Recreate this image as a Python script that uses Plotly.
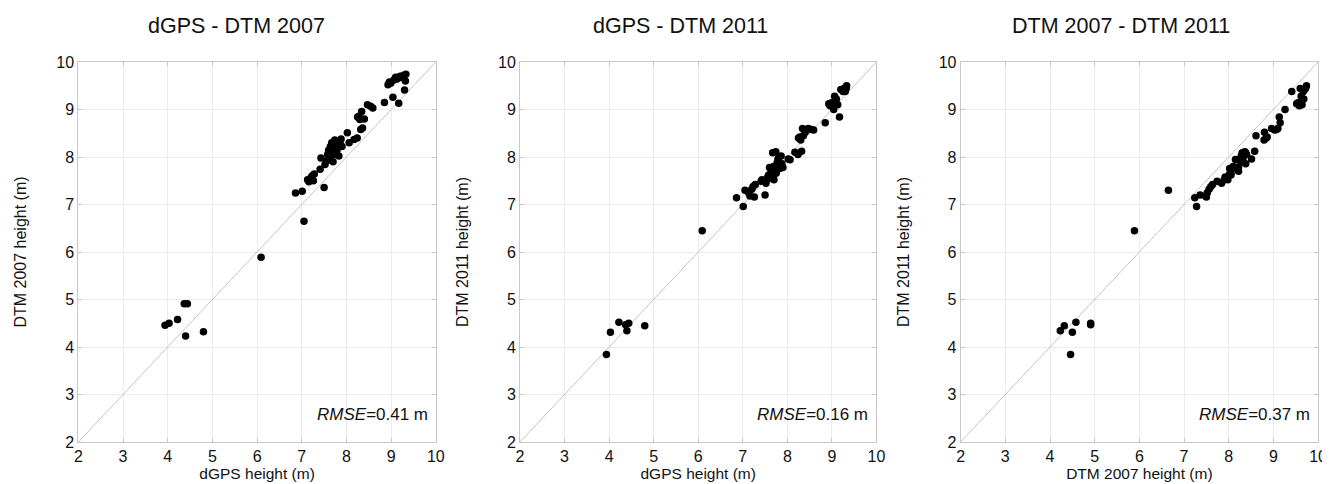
import plotly.graph_objects as go

# ---- data (m) ----
dgps = [3.94, 4.03, 4.22, 4.37, 4.40, 4.44, 4.80, 6.09, 6.86, 7.01, 7.05,
        7.13, 7.16, 7.20, 7.23, 7.26, 7.28, 7.50, 7.41, 7.43, 7.52,
        7.56, 7.58, 7.60, 7.62, 7.64, 7.66, 7.67, 7.69, 7.70, 7.72,
        7.74, 7.75, 7.77, 7.79, 7.80, 7.83, 7.86, 7.88, 7.90,
        8.02, 8.06, 8.17, 8.24, 8.25, 8.28, 8.32, 8.36, 8.34, 8.30,
        8.40, 8.47, 8.54, 8.59, 8.85, 8.93, 8.96, 8.99, 9.04, 9.06,
        9.10, 9.13, 9.17, 9.20, 9.25, 9.28, 9.30, 9.33, 9.32]
dtm2007 = [4.46, 4.50, 4.58, 4.91, 4.23, 4.91, 4.32, 5.89, 7.24, 7.28, 6.65,
           7.52, 7.48, 7.56, 7.60, 7.50, 7.64, 7.36, 7.74, 7.98, 7.84,
           7.92, 8.05, 8.14, 7.95, 8.22, 8.02, 8.30, 8.10, 7.90, 8.20,
           8.36, 8.05, 8.26, 8.15, 8.32, 8.02, 8.28, 8.38, 8.22,
           8.51, 8.30, 8.37, 8.40, 8.84, 8.86, 8.58, 8.61, 8.96, 8.79,
           8.80, 9.10, 9.07, 9.03, 9.15, 9.52, 9.58, 9.55, 9.26, 9.62,
           9.68, 9.64, 9.13, 9.70, 9.67, 9.72, 9.41, 9.74, 9.60]
dtm2011 = [3.84, 4.31, 4.52, 4.47, 4.34, 4.50, 4.45, 6.45, 7.14, 6.96, 7.30,
           7.25, 7.18, 7.32, 7.38, 7.16, 7.42, 7.20, 7.49, 7.52, 7.45,
           7.58, 7.62, 7.78, 7.55, 7.70, 7.64, 8.09, 7.80, 7.52, 7.74,
           8.11, 7.66, 7.88, 7.95, 7.98, 7.76, 8.02, 7.86, 7.78,
           7.96, 7.94, 8.10, 8.05, 8.40, 8.42, 8.12, 8.45, 8.60, 8.36,
           8.52, 8.60, 8.58, 8.57, 8.72, 9.12, 9.08, 9.14, 9.00, 9.28,
           9.22, 9.10, 8.84, 9.42, 9.38, 9.45, 9.38, 9.50, 9.44]

panel_titles = ["dGPS - DTM 2007", "dGPS - DTM 2011", "DTM 2007 - DTM 2011"]
x_titles = ["dGPS height (m)", "dGPS height (m)", "DTM 2007 height (m)"]
y_titles = ["DTM 2007 height (m)", "DTM 2011 height (m)", "DTM 2011 height (m)"]
rmse_labels = ["0.41", "0.16", "0.37"]
axis_range = [2, 10]
tick_vals = [2, 3, 4, 5, 6, 7, 8, 9, 10]

pairs = [(dgps, dtm2007), (dgps, dtm2011), (dtm2007, dtm2011)]

W, H = 1330, 484
domains = [(67 / W, 428 / W), (513 / W, 873 / W), (958 / W, 1319 / W)]
title_centers = [227 / W, 675 / W, 1120 / W]

FONT = "Liberation Sans, Arial, sans-serif"
fig = go.Figure()

for i, (xs, ys) in enumerate(pairs):
    sfx = "" if i == 0 else str(i + 1)
    xa, ya = "x" + sfx, "y" + sfx
    fig.add_trace(go.Scatter(x=axis_range, y=axis_range, mode="lines",
                             line=dict(color="#c4c4c4", width=1),
                             xaxis=xa, yaxis=ya, showlegend=False, hoverinfo="skip"))
    fig.add_trace(go.Scatter(x=xs, y=ys, mode="markers",
                             marker=dict(color="black", size=7.5, line=dict(width=0)),
                             xaxis=xa, yaxis=ya, showlegend=False))
    common = dict(range=axis_range, tickvals=tick_vals, showgrid=True,
                  gridcolor="#ececec", gridwidth=1, zeroline=False,
                  showline=True, linecolor="#c8c8c8", linewidth=1, mirror="ticks",
                  ticks="inside", ticklen=4, tickcolor="#c8c8c8",
                  tickfont=dict(family=FONT, size=16, color="#111"))
    fig.layout["xaxis" + sfx] = dict(common, domain=list(domains[i]), anchor=ya,
                                     title=dict(text=x_titles[i], standoff=2,
                                                font=dict(family=FONT, size=15.5, color="#111")))
    fig.layout["yaxis" + sfx] = dict(common, domain=[0, 1], anchor=xa,
                                     title=dict(text=y_titles[i], standoff=25,
                                                font=dict(family=FONT, size=16, color="#111")))
    fig.add_annotation(x=title_centers[i], y=1, xref="paper", yref="paper",
                       yshift=36, text=panel_titles[i], showarrow=False,
                       xanchor="center", yanchor="middle",
                       font=dict(family=FONT, size=21.5, color="#111"))
    fig.add_annotation(x=domains[i][1], y=0, xref="paper", yref="paper",
                       xshift=-6, yshift=28,
                       text="<i>RMSE</i>=" + rmse_labels[i] + " m", showarrow=False,
                       xanchor="right", yanchor="middle",
                       font=dict(family=FONT, size=17, color="#111"))

fig.update_layout(width=W, height=H, margin=dict(l=0, r=0, t=54, b=50),
                  plot_bgcolor="white", paper_bgcolor="white",
                  font=dict(family=FONT, color="#111"))

fig.write_html("out.html")
